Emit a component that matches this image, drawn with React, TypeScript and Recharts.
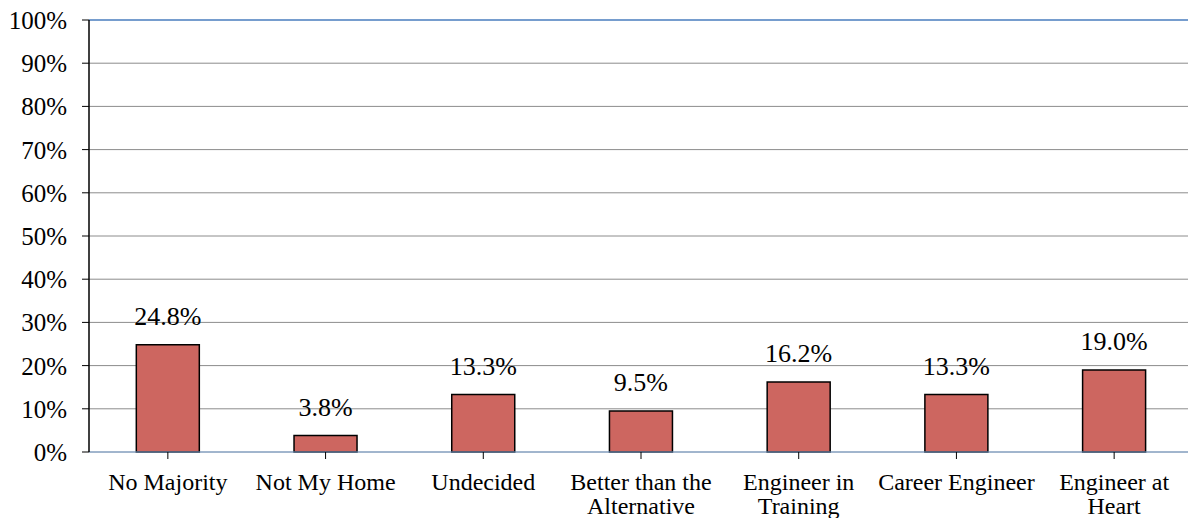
import { Bar, BarChart, CartesianGrid, LabelList, ReferenceLine, XAxis, YAxis } from "recharts"

const categories = [
  "No Majority",
  "Not My Home",
  "Undecided",
  "Better than the\nAlternative",
  "Engineer in\nTraining",
  "Career Engineer",
  "Engineer at\nHeart",
]
const shares = [24.8, 3.8, 13.3, 9.5, 16.2, 13.3, 19.0]
const yTicks = [0, 10, 20, 30, 40, 50, 60, 70, 80, 90, 100]

const data = categories.map((name, i) => ({ name, value: shares[i] }))

const FONT = "'Liberation Serif', 'Times New Roman', serif"
const textStyle = { fontFamily: FONT, fill: "#000" }

function CategoryTick(props: any) {
  const { x, y, payload } = props
  const lines = String(payload.value).split("\n")
  return (
    <text x={x} y={y} textAnchor="middle" style={{ ...textStyle, fontSize: 24 }}>
      {lines.map((line, i) => (
        <tspan key={i} x={x} dy={i === 0 ? 29 : 24}>
          {line}
        </tspan>
      ))}
    </text>
  )
}

function PercentTick(props: any) {
  const { x, y, payload } = props
  return (
    <text x={x} y={y} dy={9} textAnchor="end" style={{ ...textStyle, fontSize: 25 }}>
      {`${payload.value}%`}
    </text>
  )
}

function ValueLabel(props: any) {
  const { x, y, width, value } = props
  return (
    <text x={x + width / 2} y={y - 20} textAnchor="middle" style={{ ...textStyle, fontSize: 26 }}>
      {`${Number(value).toFixed(1)}%`}
    </text>
  )
}

export default function App() {
  return (
    <div style={{ position: "absolute", left: 0, top: 0, width: 1188, height: 518, overflow: "hidden", background: "#fff" }}>
      <BarChart
        width={1200}
        height={518}
        data={data}
        margin={{ top: 20, right: 7, bottom: 0, left: 0 }}
        barCategoryGap="30%"
      >
        <CartesianGrid vertical={false} stroke="#8c8c8c" strokeWidth={1} />
        <XAxis
          dataKey="name"
          interval={0}
          height={66}
          tickSize={7}
          tickLine={{ stroke: "#000" }}
          axisLine={{ stroke: "#7fa6d6" }}
          tick={<CategoryTick />}
          tickMargin={2}
        />
        <YAxis
          width={89}
          domain={[0, 100]}
          ticks={yTicks}
          interval={0}
          tickSize={7}
          tickMargin={15}
          tickLine={{ stroke: "#000" }}
          axisLine={{ stroke: "#000", strokeWidth: 1.5 }}
          tick={<PercentTick />}
        />
        <ReferenceLine y={100} stroke="#5b8fd0" strokeWidth={1.5} />
        <Bar dataKey="value" fill="#cd6660" stroke="#000" strokeWidth={1.5} isAnimationActive={false}>
          <LabelList dataKey="value" content={<ValueLabel />} />
        </Bar>
      </BarChart>
    </div>
  )
}
